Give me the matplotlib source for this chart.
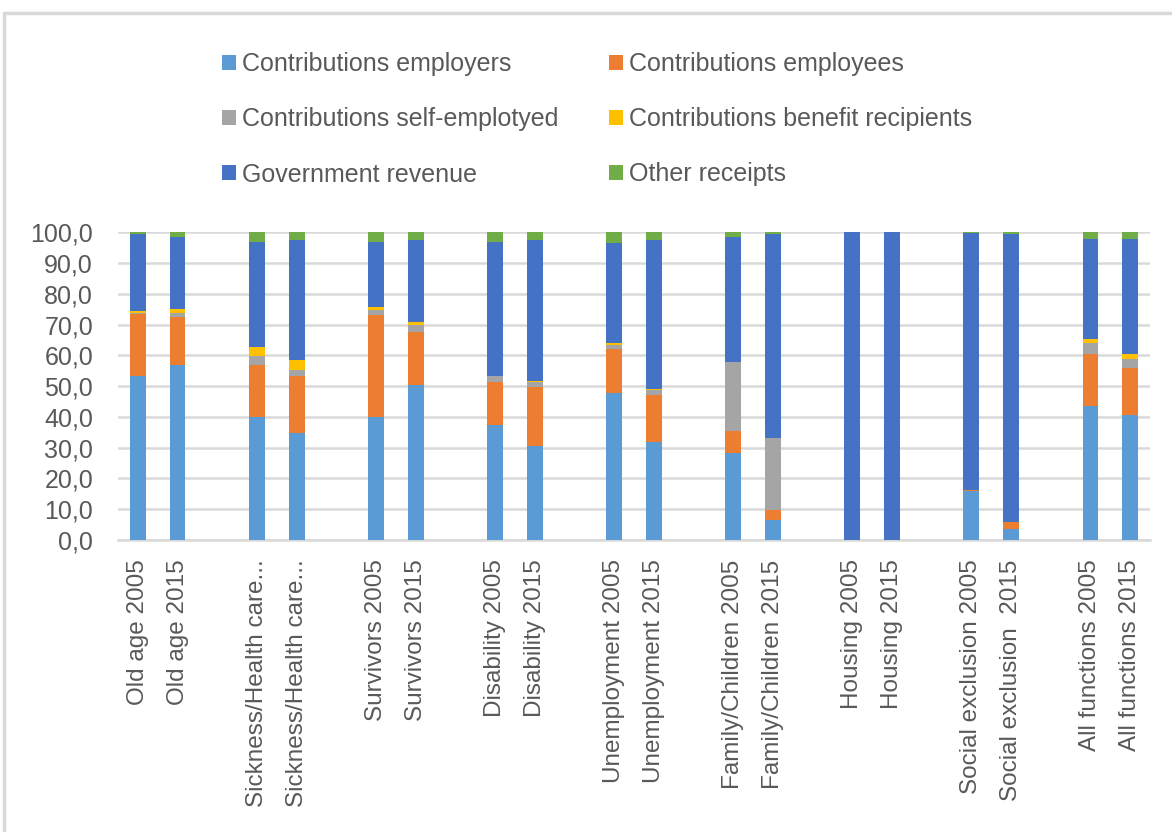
import numpy as np
import matplotlib
matplotlib.use("Agg")
import matplotlib.pyplot as plt
from matplotlib.patches import Rectangle

plt.rcParams['font.family'] = ['Liberation Sans', 'DejaVu Sans']

categories = ["Old age 2005", "Old age 2015",
              "Sickness/Health care...", "Sickness/Health care...",
              "Survivors 2005", "Survivors 2015",
              "Disability 2005", "Disability 2015",
              "Unemployment 2005", "Unemployment 2015",
              "Family/Children 2005", "Family/Children 2015",
              "Housing 2005", "Housing 2015",
              "Social exclusion 2005", "Social exclusion  2015",
              "All functions 2005", "All functions 2015"]

series_names = ["Contributions employers", "Contributions employees",
                "Contributions self-emplotyed", "Contributions benefit recipients",
                "Government revenue", "Other receipts"]

employers = [53.4, 56.9, 39.9, 34.8, 39.9, 50.3, 37.4, 30.7, 47.7, 31.7, 28.2, 6.6, 0.0, 0.0, 15.9, 3.6, 43.7, 40.5]
employees = [19.9, 15.5, 17.0, 18.5, 33.3, 17.4, 13.8, 19.0, 14.3, 15.4, 7.1, 3.0, 0.0, 0.0, 0.5, 2.1, 16.9, 15.4]
self_employed = [0.5, 1.5, 3.0, 2.1, 1.7, 2.1, 2.1, 1.5, 1.5, 1.5, 22.7, 23.7, 0.0, 0.0, 0.0, 0.3, 3.4, 3.0]
benefit_recipients = [0.6, 1.1, 2.7, 3.1, 0.9, 1.1, 0.0, 0.6, 0.6, 0.6, 0.0, 0.0, 0.0, 0.0, 0.0, 0.0, 1.2, 1.6]
government = [25.1, 23.5, 34.4, 39.0, 21.2, 26.6, 43.7, 45.7, 32.3, 48.3, 40.5, 66.3, 100.0, 100.0, 83.3, 93.5, 32.7, 37.4]
other = [0.5, 1.5, 3.0, 2.5, 3.0, 2.5, 3.0, 2.5, 3.6, 2.5, 1.5, 0.4, 0.0, 0.0, 0.3, 0.5, 2.1, 2.1]

colors = ["#5B9BD5", "#ED7D31", "#A5A5A5", "#FFC000", "#4472C4", "#70AD47"]
yticks = [0, 10, 20, 30, 40, 50, 60, 70, 80, 90, 100]
ytick_labels = ["0,0", "10,0", "20,0", "30,0", "40,0", "50,0", "60,0", "70,0", "80,0", "90,0", "100,0"]

series = [employers, employees, self_employed, benefit_recipients, government, other]

text_color = "#595959"

fig = plt.figure(figsize=(11.72, 8.32), dpi=100)
# outer chart border (screenshot crop)
fig.patches.append(Rectangle((4/1172, -0.1), 1.2, (832-13)/832 + 0.1, transform=fig.transFigure,
                             fill=False, edgecolor="#D9D9D9", linewidth=2.5))

ax = fig.add_axes([118/1172, 1-540/832, (1150-118)/1172, (540-232.3)/832])

n = len(categories)
pos = np.array([(i // 2) * 3 + (i % 2) for i in range(n)], dtype=float)

bottom = np.zeros(n)
handles = []
for vals, c, name in zip(series, colors, series_names):
    v = np.array(vals)
    h = ax.bar(pos, v, width=0.4, bottom=bottom, color=c, label=name, zorder=3)
    handles.append(h)
    bottom += v

ax.set_xlim(-0.5, 25.5)
ax.set_ylim(0, 100)
ax.set_yticks(yticks)
ax.set_yticklabels(ytick_labels, fontsize=18, color=text_color)
ax.set_xticks(pos)
ax.set_xticklabels(categories, rotation=90, fontsize=17.5, color=text_color)
ax.tick_params(axis='both', length=0)
ax.tick_params(axis='y', pad=18)
ax.tick_params(axis='x', pad=14)
ax.yaxis.grid(True, color="#D9D9D9", linewidth=1.8, zorder=0)
for s in ["top", "right", "left"]:
    ax.spines[s].set_visible(False)
ax.spines["bottom"].set_color("#D9D9D9")
ax.spines["bottom"].set_linewidth(1.8)

order = [0, 2, 4, 1, 3, 5]
leg = fig.legend([handles[i] for i in order], [series_names[i] for i in order],
                 ncol=2, loc="upper left", bbox_to_anchor=(222/1172, 1-52/832),
                 frameon=False, fontsize=18, handlelength=0.56, handleheight=0.56,
                 handletextpad=0.25, labelspacing=1.25, columnspacing=2.0,
                 borderpad=0, borderaxespad=0, labelcolor=text_color)

fig.savefig("out.png", dpi=100)
